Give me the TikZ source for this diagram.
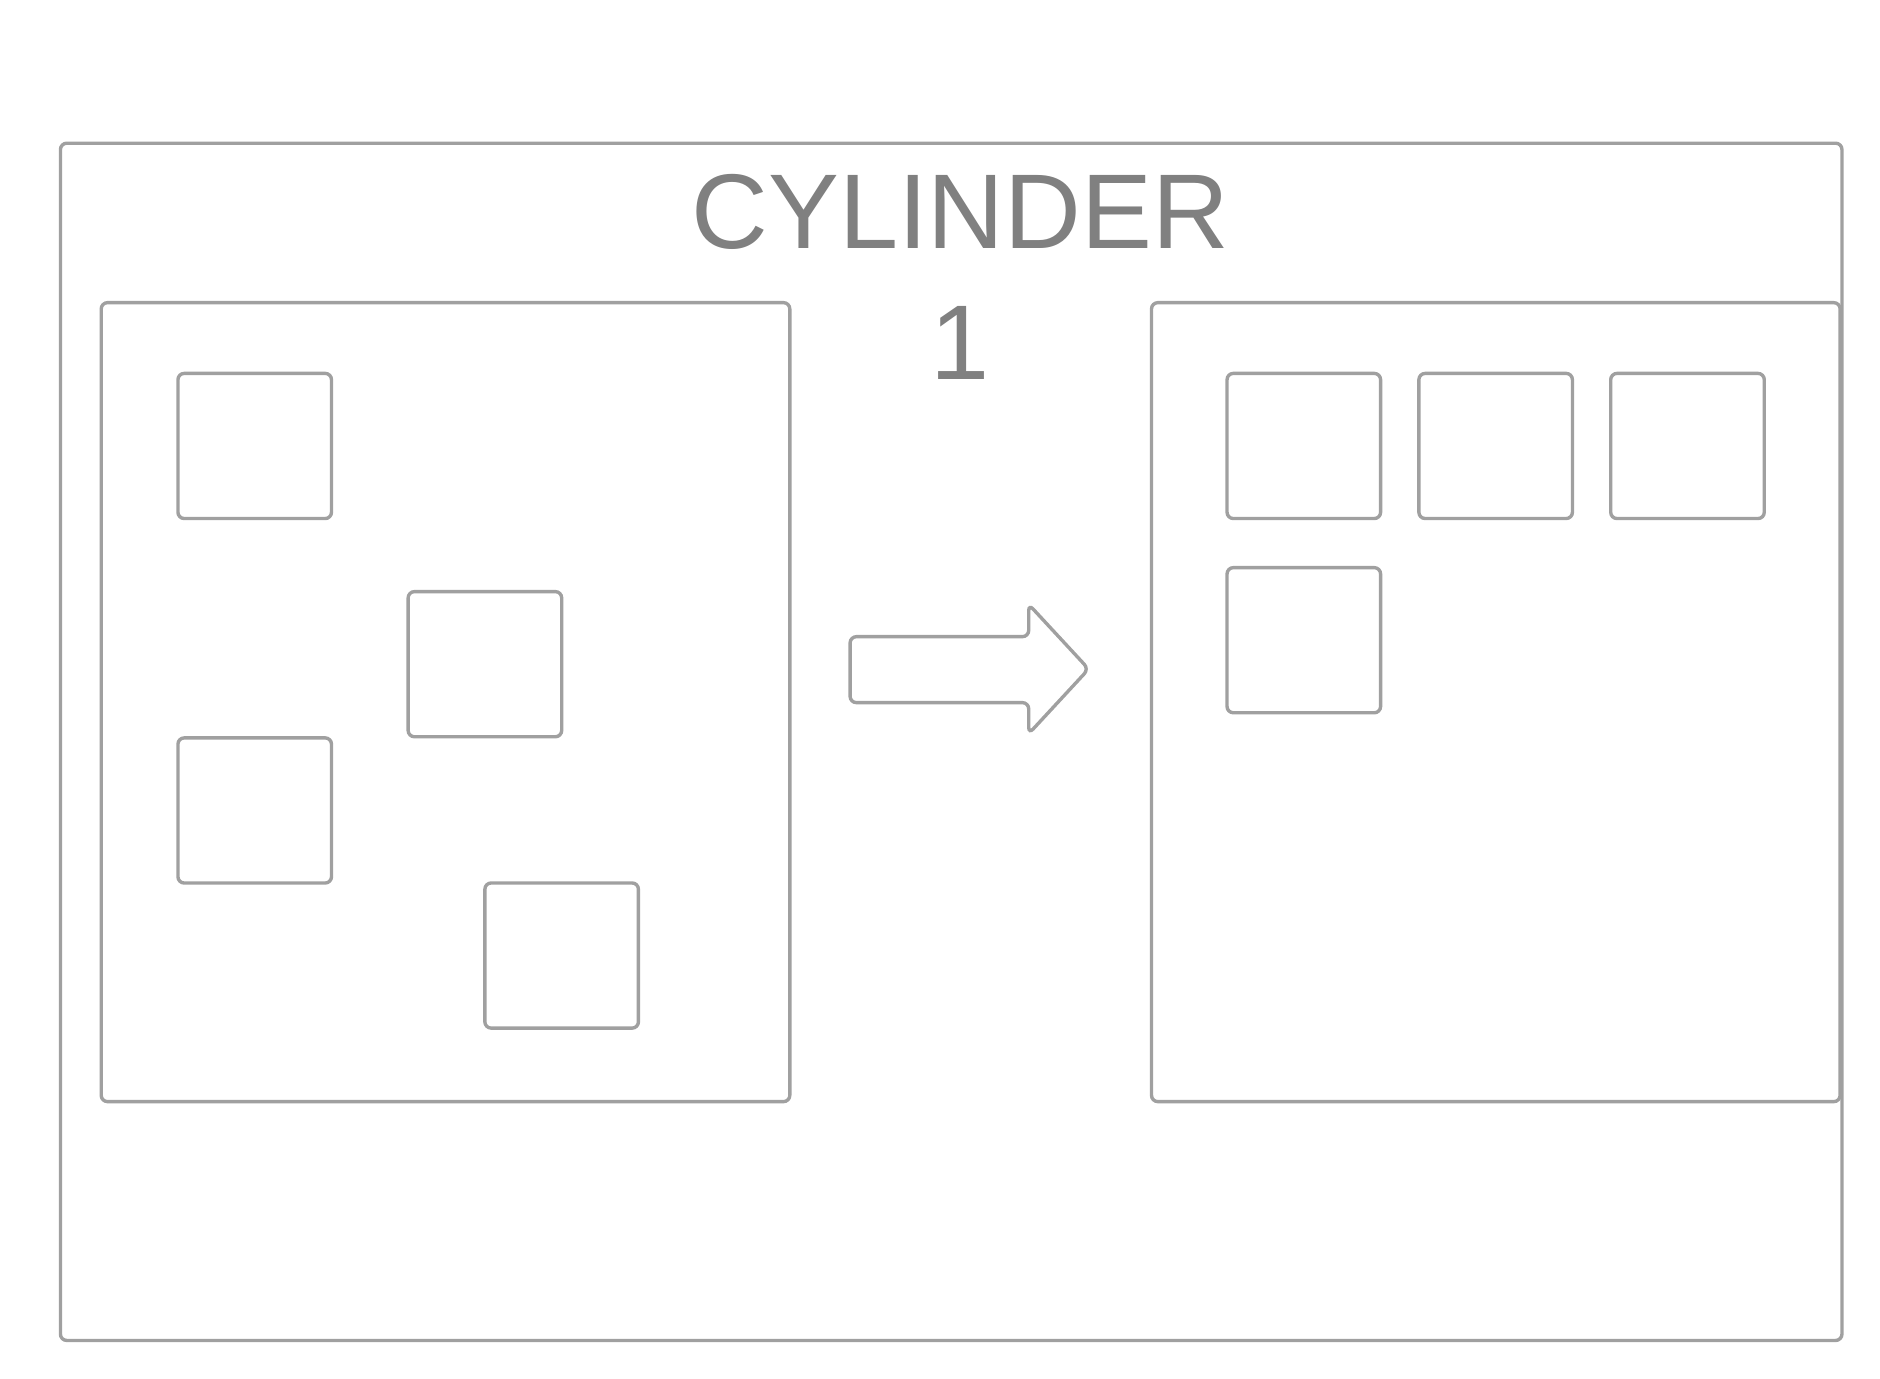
\documentclass[tikz,border=0pt]{standalone}
\usepackage{fontspec}
\setmainfont{Liberation Sans}
\definecolor{edge}{HTML}{A0A0A0}
\definecolor{ink}{HTML}{808080}
\tikzset{
  box/.style={draw=edge, line width=0.8pt, rounded corners=1.5pt, inner sep=0pt},
  item/.style={box, minimum width=1.28cm, minimum height=1.21cm, anchor=north west},
}
\begin{document}
\begin{tikzpicture}[x=0.01cm,y=-0.01cm]
      \useasboundingbox (0,0) rectangle (1568,1150);
      % frame
      \node[box, minimum width=14.85cm, minimum height=9.98cm, anchor=north west] (frame) at (49,118) {};
      \node[text=ink, font=\fontsize{25.2}{31}\selectfont, align=center, anchor=north] (title) at (801,133) {CYLINDER\\1};
      % before
      \node[box, minimum width=5.74cm, minimum height=6.66cm, anchor=north west] (before) at (83,251) {};
      \node[item] (a1) at (147,310) {};
      \node[item] (a2) at (339,492) {};
      \node[item] (a3) at (147,614) {};
      \node[item] (a4) at (403,735) {};
      % after
      \node[box, minimum width=5.74cm, minimum height=6.66cm, anchor=north west] (after) at (959,251) {};
      \node[item] (b1) at (1022,310) {};
      \node[item] (b2) at (1182,310) {};
      \node[item] (b3) at (1342,310) {};
      \node[item] (b4) at (1022,472) {};
      % arrow
      \coordinate (tip) at (908,558);
      \draw[draw=edge, line width=0.8pt, rounded corners=1.5pt]
        (709,531) -- (858,531) -- (858,504) -- (tip) -- (858,612) -- (858,586) -- (709,586) -- cycle;
\end{tikzpicture}
\end{document}
